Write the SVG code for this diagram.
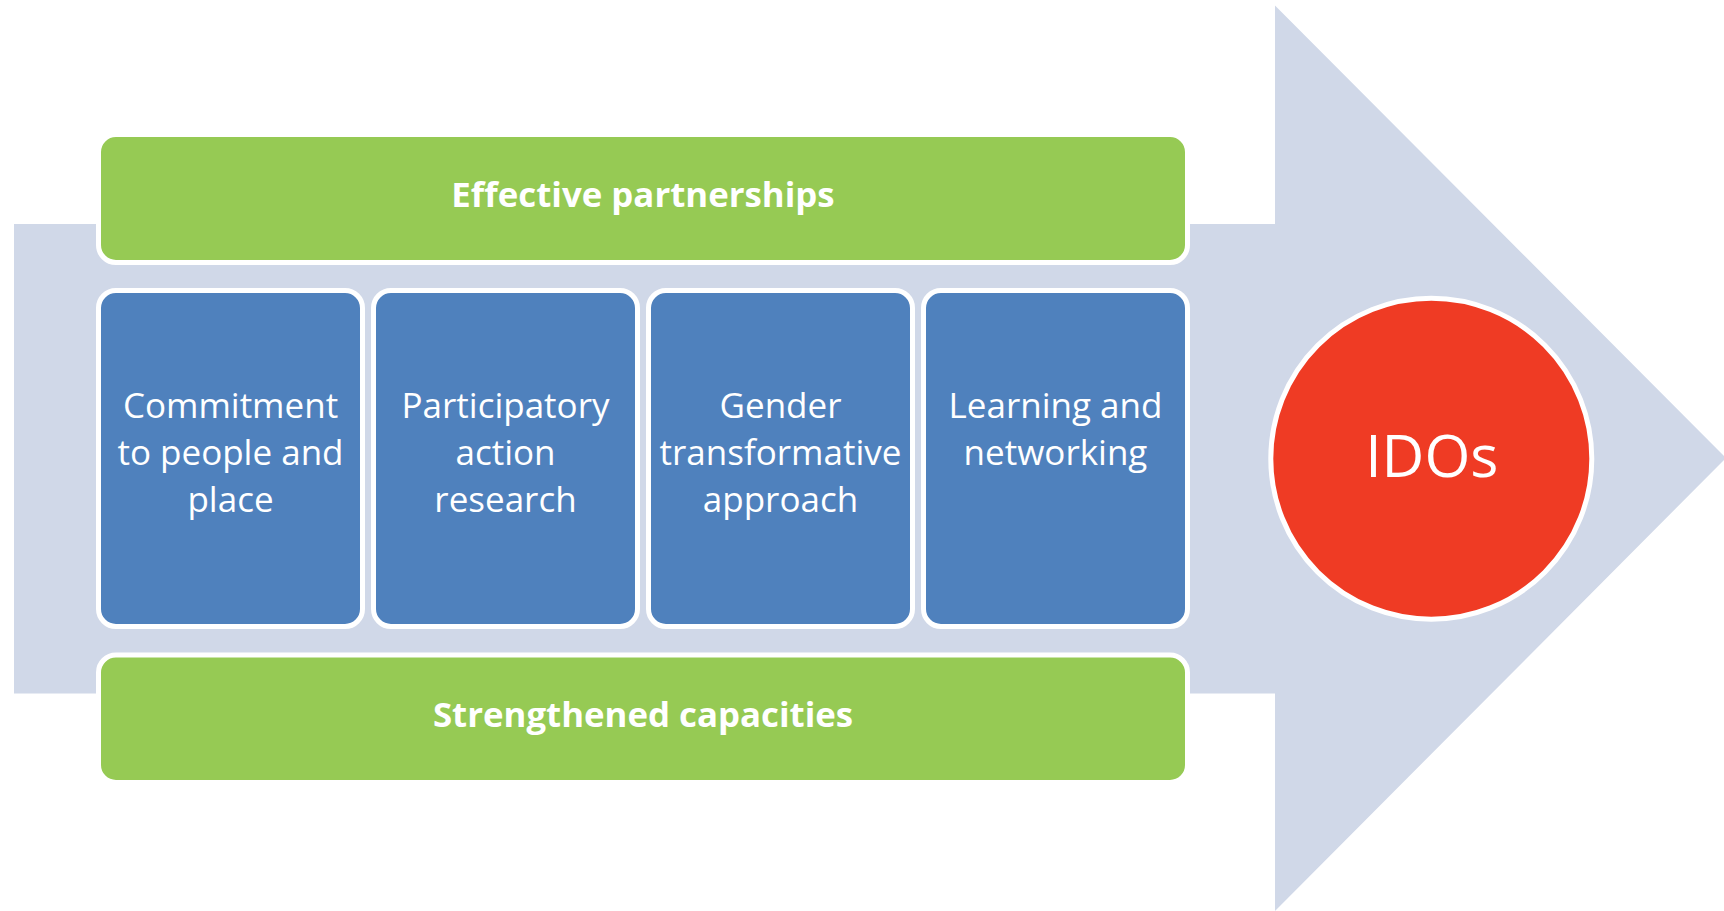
<svg xmlns="http://www.w3.org/2000/svg" width="1724" height="911" viewBox="0 0 1724 911">
<style>
.green{fill:#96CA54;stroke:#FFFFFF;stroke-width:5}
.blue{fill:#4F81BD;stroke:#FFFFFF;stroke-width:5}
.bold{font-family:"Open Sans","Liberation Sans",sans-serif;font-weight:700;font-size:34.8px;fill:#FFFFFF;text-anchor:middle}
.reg{font-family:"Open Sans","Liberation Sans",sans-serif;font-size:35px;fill:#FFFFFF;text-anchor:middle}
.big{font-family:"Open Sans","Liberation Sans",sans-serif;font-size:59px;fill:#FFFFFF;text-anchor:middle}
</style>
<rect width="1724" height="911" fill="#FFFFFF"/>
<g id="arrow">
<polygon points="14,224 1275,224 1275,5.5 1726,458 1275,911 1275,693.5 14,693.5" fill="#D0D8E8"/>
</g>
<g id="effective-partnerships">
<rect class="green" x="98.5" y="134.5" width="1089" height="128" rx="17.5" ry="17.5"/>
<text class="bold" x="643" y="207.3">Effective partnerships</text>
</g>
<g id="commitment">
<rect class="blue" x="98.5" y="290.5" width="264" height="336" rx="17.5" ry="17.5"/>
<text class="reg" x="230.5" y="418.3">Commitment</text>
<text class="reg" x="230.5" y="465">to people and</text>
<text class="reg" x="230.5" y="511.5">place</text>
</g>
<g id="participatory">
<rect class="blue" x="373.5" y="290.5" width="264" height="336" rx="17.5" ry="17.5"/>
<text class="reg" x="505.5" y="418.3">Participatory</text>
<text class="reg" x="505.5" y="465">action</text>
<text class="reg" x="505.5" y="511.5">research</text>
</g>
<g id="gender">
<rect class="blue" x="648.5" y="290.5" width="264" height="336" rx="17.5" ry="17.5"/>
<text class="reg" x="780.5" y="418.3">Gender</text>
<text class="reg" x="780.5" y="465">transformative</text>
<text class="reg" x="780.5" y="511.5">approach</text>
</g>
<g id="learning">
<rect class="blue" x="923.5" y="290.5" width="264" height="336" rx="17.5" ry="17.5"/>
<text class="reg" x="1055.5" y="418.3">Learning and</text>
<text class="reg" x="1055.5" y="465">networking</text>
</g>
<g id="strengthened-capacities">
<rect class="green" x="98.5" y="655" width="1089" height="127.5" rx="17.5" ry="17.5"/>
<text class="bold" x="643" y="726.7">Strengthened capacities</text>
</g>
<g id="idos">
<circle cx="1431.3" cy="458.7" r="160.5" fill="#EF3B24" stroke="#FFFFFF" stroke-width="5"/>
<text class="big" x="1431.8" y="477.3">IDOs</text>
</g>
<g id="connectors"></g>
</svg>
